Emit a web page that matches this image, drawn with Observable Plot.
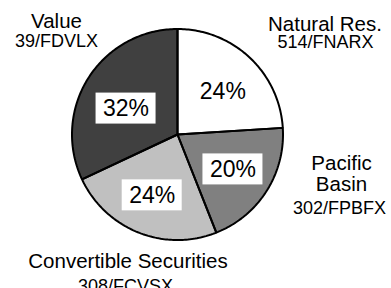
<!DOCTYPE html>
<html>
<head>
<meta charset="utf-8">
<script src="https://cdn.jsdelivr.net/npm/d3@7"></script>
<script src="https://cdn.jsdelivr.net/npm/@observablehq/plot@0.6"></script>
<style>
  html, body { margin: 0; padding: 0; background: #fff; }
  #chart { width: 391px; height: 288px; overflow: hidden; }
</style>
</head>
<body>
<div id="chart"></div>
<script>
// ---- data ----
const fundNames = ["Natural Res.", "Pacific\nBasin", "Convertible Securities", "Value"];
const fundCodes = ["514/FNARX", "302/FPBFX", "308/FCVSX", "39/FDVLX"];
const shares = [24, 20, 24, 32];

// ---- styles / layout (kept apart from the data) ----
const sliceColors = ["#ffffff", "#808080", "#c0c0c0", "#404040"];
const W = 391, H = 288;
const cx = 177, cy = 134, R = 105.5;         // pie centre and radius (px)
const labelRadius = 0.6;                     // percent labels, fraction of R
const pctNudge = [[2, 3], [2, 1], [-2, 2], [2, 8]];                       // px
const nameAnchor = [[324.5, 30], [341, 190], [127.5, 267], [56, 27]];   // baselines (px)
const codeAnchor = [[325, 47], [339, 213], [125, 291], [56, 46]];
const boxW = 60, boxH = 31;
const font = "'Liberation Sans', Arial, Helvetica, sans-serif";

// ---- geometry from the data ----
const arcs = d3.pie().sort(null).value(d => d)(shares);
const slices = arcs.map((a, i) => {
  const pts = [{x: 0, y: 0}];
  const n = Math.max(2, Math.ceil((a.endAngle - a.startAngle) / (Math.PI / 180)));
  for (let k = 0; k <= n; k++) {
    const t = a.startAngle + (a.endAngle - a.startAngle) * k / n;
    pts.push({x: R * Math.sin(t), y: R * Math.cos(t)});
  }
  pts.push({x: 0, y: 0});
  return {name: fundNames[i], color: sliceColors[i], pts};
});
const pctLabels = arcs.map((a, i) => {
  const m = (a.startAngle + a.endAngle) / 2;
  return {
    x: labelRadius * R * Math.sin(m) + pctNudge[i][0],
    y: labelRadius * R * Math.cos(m) - pctNudge[i][1],
    text: shares[i] + "%"
  };
});
const names = fundNames.map((n, i) => ({text: n, x: nameAnchor[i][0] - cx, y: cy - nameAnchor[i][1]}));
const codes = fundCodes.map((c, i) => ({text: c, x: codeAnchor[i][0] - cx, y: cy - codeAnchor[i][1]}));

const chart = Plot.plot({
  width: W,
  height: H,
  margin: 0,
  style: {background: "white", overflow: "hidden"},
  x: {domain: [-cx, W - cx], axis: null},
  y: {domain: [cy - H, cy], axis: null},
  marks: [
    ...slices.map(s => Plot.line(s.pts, {x: "x", y: "y", fill: s.color, stroke: "none"})),
    ...slices.map(s => Plot.line(s.pts, {x: "x", y: "y", fill: "none", stroke: "black", strokeWidth: 2, strokeLinejoin: "miter"})),
    Plot.rect(pctLabels, {
      x1: d => d.x - boxW / 2, x2: d => d.x + boxW / 2,
      y1: d => d.y - boxH / 2, y2: d => d.y + boxH / 2,
      fill: "white", stroke: "none"
    }),
    Plot.text(pctLabels, {x: "x", y: "y", text: "text", fontSize: 23, fontFamily: font, fill: "black"}),
    Plot.text(names, {x: "x", y: "y", text: "text", fontSize: 20.5, fontFamily: font, fill: "black", lineAnchor: "bottom", lineHeight: 1}),
    Plot.text(codes, {x: "x", y: "y", text: "text", fontSize: 18, fontFamily: font, fill: "black", lineAnchor: "bottom"})
  ]
});
document.getElementById("chart").appendChild(chart);
</script>
</body>
</html>
